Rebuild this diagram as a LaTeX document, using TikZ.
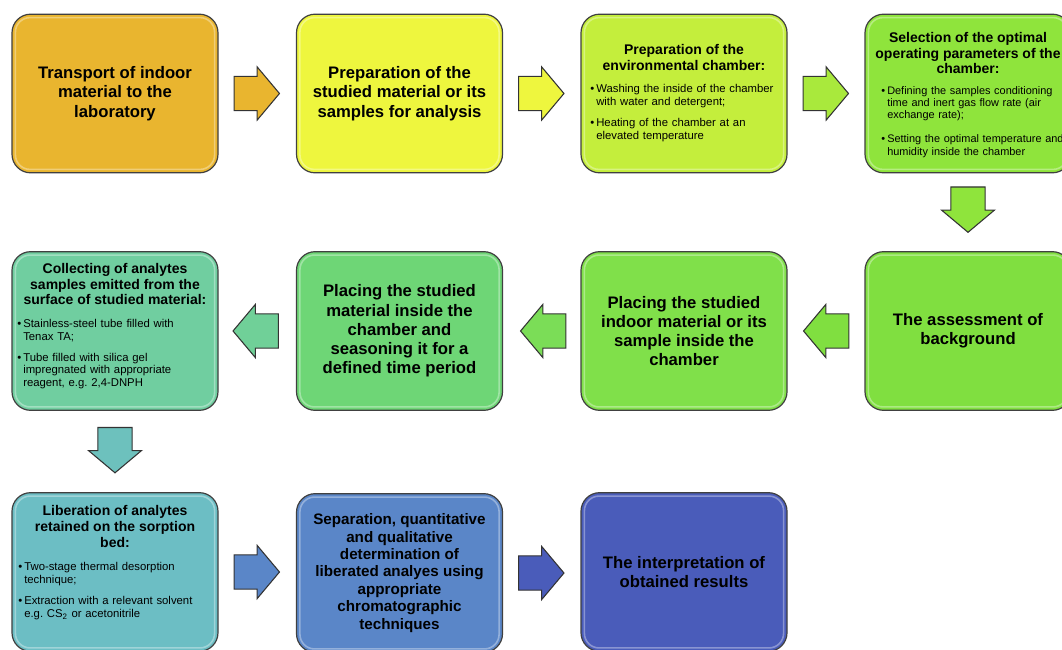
\documentclass[tikz,border=0pt]{standalone}
\usepackage{fontspec}
\setmainfont{Liberation Sans}
\usetikzlibrary{shapes.arrows,calc,positioning}

\definecolor{cOne}{RGB}{233,181,47}
\definecolor{cTwo}{RGB}{238,246,62}
\definecolor{cThree}{RGB}{196,238,60}
\definecolor{cFour}{RGB}{143,228,60}
\definecolor{cFive}{RGB}{128,223,64}
\definecolor{cSix}{RGB}{128,224,74}
\definecolor{cSeven}{RGB}{110,214,118}
\definecolor{cEight}{RGB}{112,206,160}
\definecolor{cNine}{RGB}{108,190,196}
\definecolor{cTen}{RGB}{90,134,200}
\definecolor{cEleven}{RGB}{74,92,186}

% one bullet of a list
\newcommand{\bitem}[1]{\noindent\hangindent=4.5pt\hangafter=1\makebox[4.5pt][l]{\textbullet}#1\par}

\begin{document}
\begin{tikzpicture}[x=0.75pt,y=-0.75pt,
  stepbox/.style={draw=black!75,line width=0.9pt,rounded corners=14pt,minimum width=154.5pt,minimum height=119pt,inner sep=0pt},
  bigtxt/.style={font=\bfseries\fontsize{12.5}{14.4}\selectfont,align=center},
  midtxt/.style={font=\bfseries\fontsize{10.5}{11.8}\selectfont,align=center,inner sep=0pt},
  listtxt/.style={font=\fontsize{8.5}{9.4}\selectfont,text width=150pt,align=left,inner sep=0pt,anchor=north west},
  rarr/.style={single arrow,draw=black!80,line width=0.8pt,minimum height=34pt,inner xsep=0pt,inner ysep=12.4pt,
    single arrow head extend=7.1pt,single arrow tip angle=100,anchor=tail},
  larr/.style={rarr,shape border rotate=180},
  darr/.style={rarr,shape border rotate=270,inner xsep=12.4pt,inner ysep=0pt}]
\clip (0,0) rectangle (1062,649);
\fill[white] (0,0) rectangle (1062,649);
%
% first row
\node[stepbox,fill=cOne,bigtxt] (b1) at (115,93.5) {Transport of indoor\\material to the\\laboratory};
\node[stepbox,fill=cTwo,bigtxt] (b2) at (399.5,93.5) {Preparation of the\\studied material or its\\samples for analysis};
\node[stepbox,fill=cThree] (b3) at (684,93.5) {};
\node[stepbox,fill=cFour] (b4) at (968,93.5) {};
\node[midtxt] (t3) at (684,57.5) {Preparation of the\\environmental chamber:};
\node[listtxt] (l3) at (590,84) {\bitem{Washing the inside of the chamber\newline with water and detergent;}\vspace{7pt}%
  \bitem{Heating of the chamber at an\newline elevated temperature}};
\node[midtxt] (t4) at (968,53) {Selection of the optimal\\operating parameters of the\\chamber:};
\node[listtxt,font=\fontsize{8.2}{9.2}\selectfont] (l4) at (881,86) {\bitem{Defining the samples conditioning\newline time and inert gas flow rate (air\newline exchange rate);}\vspace{9pt}%
  \bitem{Setting the optimal temperature and\newline humidity inside the chamber}};
%
% second row
\node[stepbox,fill=cFive,bigtxt] (b5) at (968,331) {The assessment of\\background};
\node[stepbox,fill=cSix,bigtxt] (b6) at (684,331) {Placing the studied\\indoor material or its\\sample inside the\\chamber};
\node[stepbox,fill=cSeven,bigtxt] (b7) at (399.5,331) {Placing the studied\\material inside the\\chamber and\\seasoning it for a\\defined time period};
\node[stepbox,fill=cEight] (b8) at (115,331) {};
\node[midtxt] (t8) at (115,284) {Collecting of analytes\\samples emitted from the\\surface of studied material:};
\node[listtxt] (l8) at (17,319) {\bitem{Stainless-steel tube filled with\newline Tenax TA;}\vspace{6.5pt}%
  \bitem{Tube filled with silica gel\newline impregnated with appropriate\newline reagent, e.g.\ 2,4-DNPH}};
%
% third row
\node[stepbox,fill=cNine] (b9) at (115,572) {};
\node[stepbox,fill=cTen,font=\bfseries\fontsize{11.4}{13.1}\selectfont,align=center] (b10) at (399.5,573)
  {Separation, quantitative\\and qualitative\\determination of\\liberated analyes using\\appropriate\\chromatographic\\techniques};
\node[stepbox,fill=cEleven,bigtxt] (b11) at (684,572) {The interpretation of\\obtained results};
\node[midtxt] (t9) at (115,526.5) {Liberation of analytes\\retained on the sorption\\bed:};
\node[listtxt] (l9) at (18,562) {\bitem{Two-stage thermal desorption\newline technique;}\vspace{7pt}%
  \bitem{Extraction with a relevant solvent\newline e.g.\ CS\textsubscript{2} or acetonitrile}};
%
% light edge of the boxes
\foreach \b in {b1,b2,b3,b4,b5,b6,b7,b8,b9,b10,b11}
  \draw[white,opacity=.35,line width=1.2pt,rounded corners=11pt]
    ([shift={(4,4)}]\b.north west) rectangle ([shift={(-4,-4)}]\b.south east);
%
% arrows
\node[rarr,fill=cOne] (a1) at ($(b1.east)+(15,0)$) {};
\node[rarr,fill=cTwo] (a2) at ($(b2.east)+(15,0)$) {};
\node[rarr,fill=cThree!50!cFour] (a3) at ($(b3.east)+(15,0)$) {};
\node[darr,fill=cFour] (a4) at ($(b4.south)+(0,13)$) {};
\node[larr,fill=cFive] (a5) at ($(b5.west)+(-15,0)$) {};
\node[larr,fill=cSix!70!cSeven] (a6) at ($(b6.west)+(-14,0)$) {};
\node[larr,fill=cEight!80!cSeven] (a7) at ($(b7.west)+(-17,0)$) {};
\node[darr,fill=cNine!80!cEight] (a8) at ($(b8.south)+(0,16)$) {};
\node[rarr,fill=cTen] (a9) at ($(b9.east)+(15,0)$) {};
\node[rarr,fill=cEleven] (a10) at ($(b10.east)+(15,0)$) {};
\end{tikzpicture}
\end{document}
